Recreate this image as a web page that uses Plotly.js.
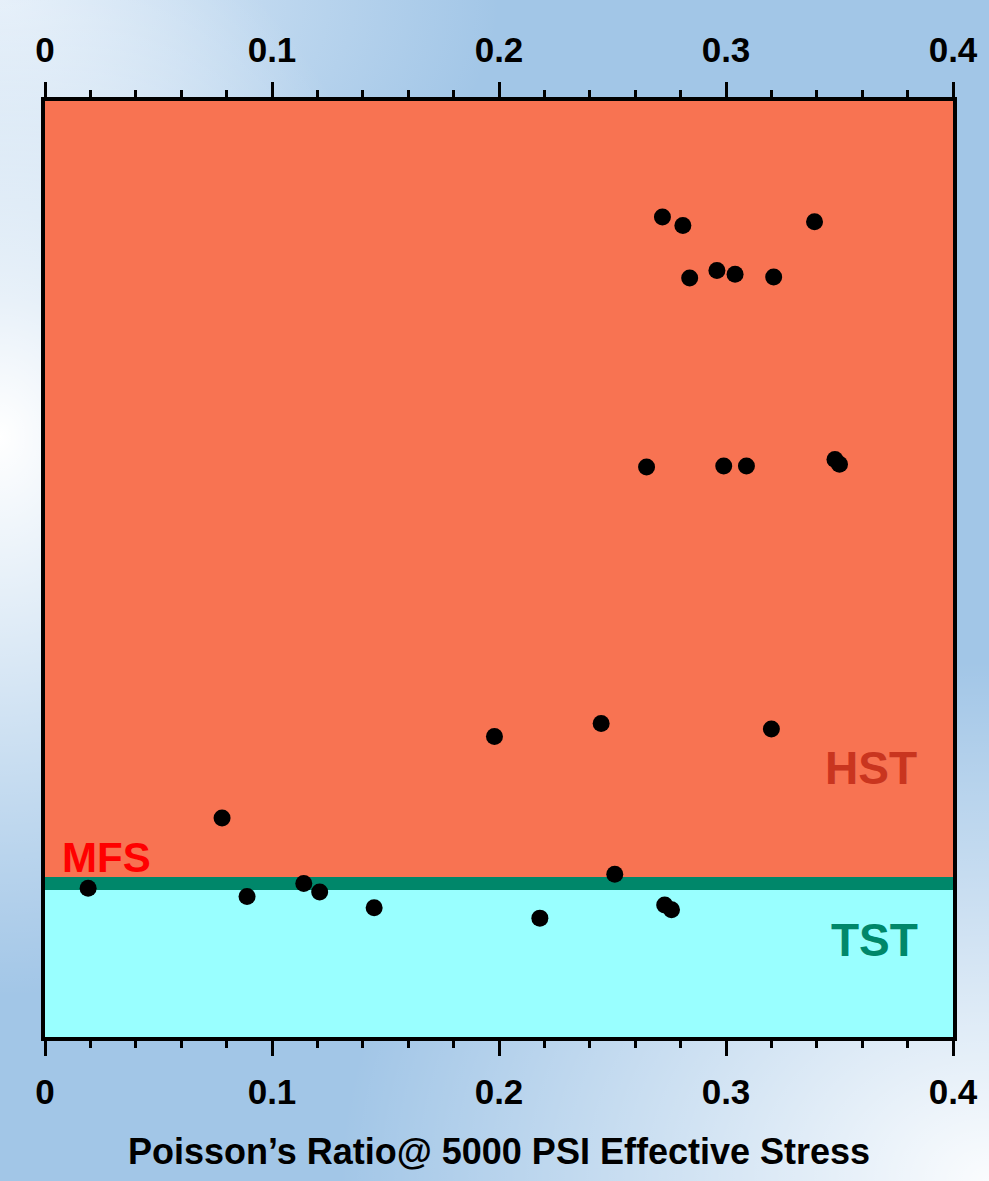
<!DOCTYPE html>
<html>
<head>
<meta charset="utf-8">
<script src="https://cdn.plot.ly/plotly-3.0.1.min.js"></script>
<style>
html, body { margin:0; padding:0; }
body {
  width:989px; height:1181px; overflow:hidden;
  background:
    radial-gradient(ellipse 420px 560px at 0% 37%, rgba(255,255,255,1) 0%, rgba(255,255,255,0) 100%),
    radial-gradient(ellipse 650px 520px at 100% 100%, rgba(255,255,255,0.95) 0%, rgba(255,255,255,0) 100%),
    radial-gradient(ellipse 500px 300px at 0% 0%, rgba(230,240,250,0.9) 0%, rgba(230,240,250,0) 100%),
    #a2c6e7;
}
#chart { width:989px; height:1181px; }
</style>
</head>
<body>
<div id="chart"></div>
<script>
// Poisson's ratio values (x) and relative stratigraphic position (y, arbitrary units, 0 = bottom)
const poissonRatio = [0.272, 0.281, 0.339, 0.284, 0.296, 0.304, 0.321,
                      0.265, 0.299, 0.309, 0.348, 0.350,
                      0.198, 0.245, 0.320,
                      0.078, 0.019, 0.089, 0.114, 0.121, 0.145, 0.218, 0.251, 0.273, 0.276];
const position     = [87.6, 86.7, 87.1, 81.1, 81.9, 81.5, 81.2,
                      60.9, 61.0, 61.0, 61.7, 61.2,
                      32.1, 33.5, 32.9,
                      23.4, 15.9, 15.0, 16.4, 15.5, 13.8, 12.7, 17.4, 14.1, 13.6];
const xTickVals   = [0, 0.1, 0.2, 0.3, 0.4];
const xTickText   = ['0', '0.1', '0.2', '0.3', '0.4'];
const mfsLevel    = 16.4;   // maximum flooding surface position
const yTop        = 100;
const yBottom     = 0;
const zoneLabels  = ['HST', 'MFS', 'TST'];

const FAM = 'Liberation Sans, Arial, sans-serif';
const tickFont = {family:FAM, size:35, color:'#000', weight:'bold'};
const axisCommon = {
  range:[0, 0.4], tickmode:'array', tickvals:xTickVals, ticktext:xTickText,
  ticks:'outside', ticklen:15, tickwidth:3, tickcolor:'#000',
  minor:{ticks:'outside', dtick:0.02, ticklen:7, tickwidth:3, tickcolor:'#000'},
  showline:true, linecolor:'#000', linewidth:4, showgrid:false, zeroline:false,
  tickfont:tickFont, fixedrange:true
};

const data = [
  {x:poissonRatio, y:position, type:'scatter', mode:'markers',
   marker:{color:'#000', size:17}, xaxis:'x', yaxis:'y', hoverinfo:'x+y'},
  {x:[0.4], y:[yTop], type:'scatter', mode:'markers', marker:{opacity:0},
   xaxis:'x2', yaxis:'y', hoverinfo:'skip', showlegend:false}
];

const layout = {
  width:989, height:1181,
  margin:{l:45, r:36, t:101, b:144},
  paper_bgcolor:'rgba(0,0,0,0)', plot_bgcolor:'rgba(0,0,0,0)',
  showlegend:false,
  xaxis: Object.assign({}, axisCommon, {
    side:'bottom', anchor:'y', ticklabelstandoff:6,
    title:{text:"Poisson’s Ratio@ 5000 PSI Effective Stress",
           font:{family:FAM, size:36, color:'#000', weight:'bold'},
           standoff:30}
  }),
  xaxis2: Object.assign({}, axisCommon, {side:'top', overlaying:'x', anchor:'y', matches:'x', ticklabelstandoff:6}),
  yaxis:{range:[yBottom, yTop], showticklabels:false, ticks:'', showgrid:false, zeroline:false,
         showline:true, mirror:true, linecolor:'#000', linewidth:4, fixedrange:true},
  font:{family:FAM, weight:'bold'},
  shapes:[
    {type:'rect', xref:'x', yref:'y', x0:0, x1:0.4, y0:mfsLevel, y1:yTop,
     fillcolor:'#f87352', line:{width:0}, layer:'below'},
    {type:'rect', xref:'x', yref:'y', x0:0, x1:0.4, y0:yBottom, y1:mfsLevel,
     fillcolor:'#99ffff', line:{width:0}, layer:'below'},
    {type:'line', xref:'x', yref:'y', x0:0, x1:0.4, y0:mfsLevel, y1:mfsLevel,
     line:{color:'#00876a', width:13}, layer:'below'}
  ],
  annotations:[
    {text:zoneLabels[0], xref:'x', yref:'y', x:0.3637, y:28.7, showarrow:false,
     font:{family:FAM, size:46, color:'#c9351f', weight:'bold'}},
    {text:zoneLabels[1], xref:'x', yref:'y', x:0.0273, y:19.2, showarrow:false,
     font:{family:FAM, size:42, color:'#ff0000', weight:'bold'}},
    {text:zoneLabels[2], xref:'x', yref:'y', x:0.3655, y:10.4, showarrow:false,
     font:{family:FAM, size:46, color:'#00876a', weight:'bold'}}
  ]
};

Plotly.newPlot('chart', data, layout, {displayModeBar:false, staticPlot:true});
</script>
</body>
</html>
